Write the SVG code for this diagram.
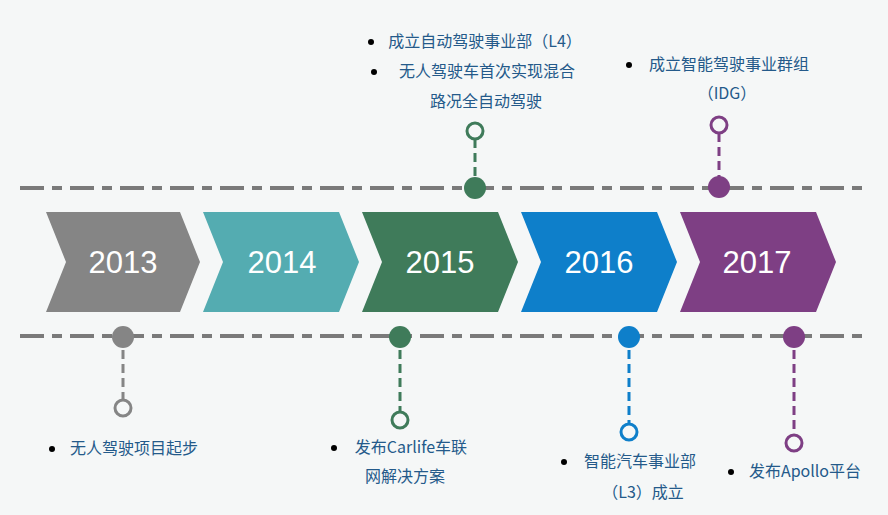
<svg xmlns="http://www.w3.org/2000/svg" width="888" height="515" viewBox="0 0 888 515">
<style>
.ax{stroke:#7a7a7a;stroke-width:4;stroke-dasharray:24 8 10 8;fill:none}
.yr{font-family:"Liberation Sans",Arial,sans-serif;font-size:31px;fill:#fff;text-anchor:middle}
.t{font-family:"Noto Sans CJK SC","Liberation Sans",sans-serif;font-size:16px;fill:#245a8a;text-anchor:middle}
.st{stroke-width:3;stroke-dasharray:9 5;fill:none}
.ring{fill:#f5f7f7;stroke-width:3}
</style>
<rect width="888" height="515" fill="#f5f7f7"/>
<g id="axes">
<line class="ax" x1="20" y1="188" x2="862" y2="188"/>
<line class="ax" x1="20" y1="336" x2="862" y2="336"/>
</g>
<g id="chevrons">
<g id="y2013"><polygon points="46,212 180,212 200,262 180,312 46,312 66,262" fill="#858585"/><text class="yr" x="123" y="273">2013</text></g>
<g id="y2014"><polygon points="203,212 339,212 359,262 339,312 203,312 223,262" fill="#54acb1"/><text class="yr" x="282" y="273">2014</text></g>
<g id="y2015"><polygon points="362,212 498,212 518,262 498,312 362,312 382,262" fill="#3f7b5a"/><text class="yr" x="440" y="273">2015</text></g>
<g id="y2016"><polygon points="521,212 657,212 677,262 657,312 521,312 541,262" fill="#0e7fca"/><text class="yr" x="599" y="273">2016</text></g>
<g id="y2017"><polygon points="680,212 816,212 836,262 816,312 680,312 700,262" fill="#7e3f84"/><text class="yr" x="757" y="273">2017</text></g>
</g>
<g id="connectors">
<line class="st" stroke="#858585" x1="123" y1="336" x2="123" y2="400"/>
<line class="st" stroke="#3f7b5a" x1="400" y1="336" x2="400" y2="412"/>
<line class="st" stroke="#0e7fca" x1="629" y1="336" x2="629" y2="424"/>
<line class="st" stroke="#7e3f84" x1="794" y1="336" x2="794" y2="436"/>
<line class="st" stroke="#3f7b5a" x1="475" y1="139" x2="475" y2="188"/>
<line class="st" stroke="#7e3f84" x1="719" y1="133" x2="719" y2="188"/>
</g>
<g id="m2013"><circle cx="123" cy="337" r="11" fill="#858585"/><circle class="ring" stroke="#858585" cx="123" cy="408" r="8"/>
<circle cx="52" cy="449" r="3" fill="#000"/><text class="t" x="134" y="454">无人驾驶项目起步</text></g>
<g id="m2014"><circle cx="400" cy="337" r="11" fill="#3f7b5a"/><circle class="ring" stroke="#3f7b5a" cx="400" cy="420" r="8"/>
<circle cx="334" cy="448" r="3" fill="#000"/><text class="t" x="411" y="453">发布Carlife车联</text><text class="t" x="405" y="482">网解决方案</text></g>
<g id="m2015"><circle cx="475" cy="188" r="11" fill="#3f7b5a"/><circle class="ring" stroke="#3f7b5a" cx="475" cy="131" r="8"/>
<circle cx="371" cy="42" r="3" fill="#000"/><text class="t" x="485" y="47">成立自动驾驶事业部（L4）</text>
<circle cx="374" cy="72" r="3" fill="#000"/><text class="t" x="487" y="77">无人驾驶车首次实现混合</text><text class="t" x="486" y="107">路况全自动驾驶</text></g>
<g id="m2016"><circle cx="629" cy="337" r="11" fill="#0e7fca"/><circle class="ring" stroke="#0e7fca" cx="629" cy="432" r="8"/>
<circle cx="564" cy="462" r="3" fill="#000"/><text class="t" x="640" y="467">智能汽车事业部</text><text class="t" x="643" y="498">（L3）成立</text></g>
<g id="m2017"><circle cx="794" cy="337" r="11" fill="#7e3f84"/><circle class="ring" stroke="#7e3f84" cx="794" cy="443" r="8"/>
<circle cx="731" cy="472" r="3" fill="#000"/><text class="t" x="805" y="477">发布Apollo平台</text>
<circle cx="719" cy="187" r="11" fill="#7e3f84"/><circle class="ring" stroke="#7e3f84" cx="719" cy="125" r="8"/>
<circle cx="629" cy="65" r="3" fill="#000"/><text class="t" x="729" y="70">成立智能驾驶事业群组</text><text class="t" x="727" y="99">（IDG）</text></g>
</svg>
